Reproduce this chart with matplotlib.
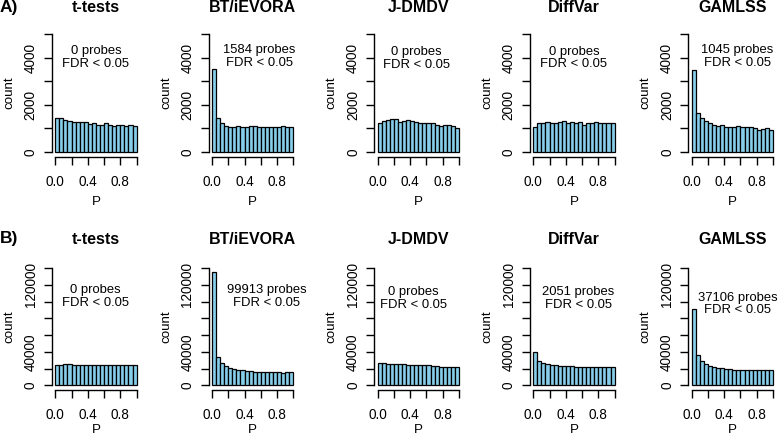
import numpy as np
import matplotlib
matplotlib.use("Agg")
import matplotlib.pyplot as plt

plt.rcParams['font.family'] = ['Liberation Sans', 'DejaVu Sans']

methods = ["t-tests", "BT/iEVORA", "J-DMDV", "DiffVar", "GAMLSS"]

# Row A histogram counts (20 bins over P in [0,1])
a_ttests = [1450, 1420, 1360, 1330, 1250, 1250, 1280, 1260, 1190, 1220,
            1160, 1140, 1220, 1140, 1110, 1150, 1140, 1110, 1140, 1100]
a_bt = [3520, 1440, 1220, 1100, 1080, 1080, 1090, 1080, 1060, 1090,
        1090, 1080, 1070, 1070, 1070, 1040, 1080, 1090, 1080, 1060]
a_jdmdv = [1245, 1330, 1360, 1390, 1410, 1290, 1330, 1360, 1300, 1290,
           1220, 1245, 1220, 1245, 1160, 1100, 1130, 1160, 1100, 1000]
a_diffvar = [1075, 1215, 1215, 1270, 1215, 1245, 1270, 1300, 1245, 1270,
             1245, 1270, 1160, 1215, 1245, 1270, 1245, 1215, 1215, 1215]
a_gamlss = [3480, 1670, 1430, 1330, 1220, 1160, 1100, 1150, 1075, 1075,
            1075, 1100, 1075, 1050, 1050, 1020, 930, 960, 1020, 930]

# Row B histogram counts
b_ttests = [24800, 24800, 25000, 25000, 24800, 24800, 24500, 24500, 24400, 24200,
            24100, 24000, 24000, 24000, 24000, 24000, 24000, 24000, 24000, 24000]
b_bt = [135600, 33600, 26400, 23600, 21200, 19200, 18000, 18000, 17200, 16800,
        16400, 16400, 16000, 16000, 16000, 15600, 15600, 15200, 15600, 15600]
b_jdmdv = [27200, 26400, 26000, 25600, 25600, 25200, 25200, 24800, 24800, 24400,
           24400, 24000, 24000, 23200, 23200, 22400, 22400, 22000, 22000, 22000]
b_diffvar = [39200, 28800, 27200, 25600, 24400, 24000, 23200, 23200, 22800, 22800,
             22400, 22400, 22400, 22400, 22400, 22400, 22400, 22400, 22400, 22400]
b_gamlss = [91200, 36000, 28800, 25600, 23600, 22400, 21200, 20400, 20000, 19200,
            18800, 18400, 18400, 18400, 18000, 18000, 18000, 18000, 18000, 18400]

a_probes = [0, 1584, 0, 0, 1045]
b_probes = [0, 99913, 0, 2051, 37106]

a_yticks = [0, 1000, 2000, 3000, 4000, 5000]
a_yticklabels = ["0", "", "2000", "", "4000", ""]
b_yticks = [0, 20000, 40000, 60000, 80000, 100000, 120000, 140000]
b_yticklabels = ["0", "", "40000", "", "", "", "120000", ""]
xticks = [0.0, 0.2, 0.4, 0.6, 0.8, 1.0]
xticklabels = ["0.0", "", "0.4", "", "0.8", ""]

rows = [
    dict(counts=[a_ttests, a_bt, a_jdmdv, a_diffvar, a_gamlss], probes=a_probes,
         yticks=a_yticks, ylabels=a_yticklabels, bottom_px=156.7, height_px=127.4,
         ann_x=[0.50, 0.58, 0.475, 0.50, 0.56], ann_y=[0.776, 0.788, 0.769, 0.775, 0.785],
         title_y=1.171, xlab_y=-0.352, tag="A)", tag_y=7.5),
    dict(counts=[b_ttests, b_bt, b_jdmdv, b_diffvar, b_gamlss], probes=b_probes,
         yticks=b_yticks, ylabels=b_yticklabels, bottom_px=390.0, height_px=126.7,
         ann_x=[0.49, 0.66, 0.445, 0.55, 0.56], ann_y=[0.740, 0.740, 0.724, 0.724, 0.679],
         title_y=1.184, xlab_y=-0.316, tag="B)", tag_y=239.0),
]

W, H = 778, 441
fig = plt.figure(figsize=(W / 100, H / 100), dpi=100)

left_px = [52.05, 208.75, 374.45, 530.05, 688.45]
width_px = 87.8
edges = np.linspace(0, 1, 21)

for r in rows:
    ymax = r["yticks"][-1]
    for i, m in enumerate(methods):
        ax = fig.add_axes([left_px[i] / W, 1 - r["bottom_px"] / H,
                           width_px / W, r["height_px"] / H])
        ax.bar(edges[:-1], r["counts"][i], width=np.diff(edges), align='edge',
               color='#87CEEB', edgecolor='black', linewidth=0.9)
        ax.set_xlim(-0.04, 1.04)
        ax.set_ylim(-0.04 * ymax, 1.04 * ymax)
        for s in ['top', 'right']:
            ax.spines[s].set_visible(False)
        ax.spines['left'].set_bounds(0, ymax)
        ax.spines['bottom'].set_bounds(0, 1)
        ax.spines['left'].set_linewidth(1.0)
        ax.spines['bottom'].set_linewidth(1.0)
        ax.set_xticks(xticks)
        ax.set_xticklabels(xticklabels)
        ax.set_yticks(r["yticks"])
        ax.set_yticklabels(r["ylabels"], rotation=90, va='center')
        ax.tick_params(axis='both', length=5.8, width=1.0, labelsize=9.8, direction='out')
        ax.tick_params(axis='x', pad=7.5)
        ax.tick_params(axis='y', pad=4.5)
        ax.set_xlabel("P", fontsize=9.6, va='center')
        ax.xaxis.set_label_coords(0.5, r["xlab_y"])
        ax.set_ylabel("count", fontsize=9.6, va='center')
        ax.yaxis.set_label_coords(-0.488, 0.5)
        ax.text(0.5, r["title_y"], m, transform=ax.transAxes, ha='center', va='center',
                fontsize=11.5, fontweight='bold')
        ax.text(r["ann_x"][i], r["ann_y"][i], f"{r['probes'][i]} probes\nFDR < 0.05",
                transform=ax.transAxes, ha='center', va='center', fontsize=9.4,
                linespacing=1.1)
    fig.text(0.0, 1 - r["tag_y"] / H, r["tag"], ha='left', va='center',
             fontsize=12.5, fontweight='bold')

fig.savefig("out.png", dpi=100)
